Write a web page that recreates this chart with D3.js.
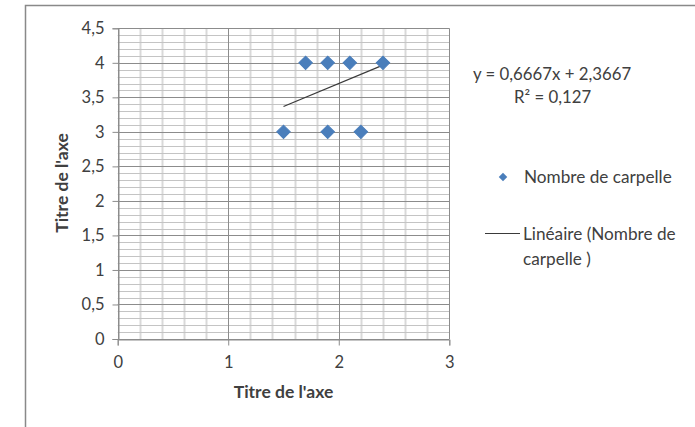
<!DOCTYPE html>
<html>
<head>
<meta charset="utf-8">
<script src="https://cdn.jsdelivr.net/npm/d3@7"></script>
<style>
  html, body { margin: 0; padding: 0; background: #fff; }
  svg { display: block; }
  text { font-family: Lato, "Open Sans", sans-serif; fill: #404040; }
</style>
</head>
<body>
<svg id="chart" width="695" height="427"></svg>
<script>
// Nombre de carpelle — observations
const xValues = [1.5, 1.7, 1.9, 1.9, 2.1, 2.2, 2.4];
const yValues = [3, 4, 4, 3, 4, 3, 4];

// Linear trendline as reported by the equation label
const trendSlope = 0.6667;
const trendIntercept = 2.3667;
const trendR2 = 0.127;

const xTicks = [0, 1, 2, 3];
const yTicks = [0, 0.5, 1, 1.5, 2, 2.5, 3, 3.5, 4, 4.5];
const seriesName = "Nombre de carpelle";
const axisTitle = "Titre de l'axe";

const fmt = v => String(v).replace(".", ",");

const svg = d3.select("#chart");

// chart frame
svg.append("path")
  .attr("d", "M25.5,427 V5.5 H695")
  .attr("fill", "none").attr("stroke", "#898989").attr("stroke-width", 1.5);

const x = d3.scaleLinear().domain([0, 3]).range([117.7, 449.3]);
const y = d3.scaleLinear().domain([0, 4.5]).range([339, 28.3]);

const grid = svg.append("g");
// minor vertical gridlines every 0.2
grid.selectAll("line.vmin").data(d3.range(0, 3.0001, 0.2).map(v => +v.toFixed(1)).filter(v => !xTicks.includes(v)))
  .join("line")
  .attr("x1", d => Math.round(x(d)) + 0.5).attr("x2", d => Math.round(x(d)) + 0.5)
  .attr("y1", y(4.5)).attr("y2", y(0))
  .attr("stroke", "#d9d9d9").attr("stroke-width", 2);
// minor horizontal gridlines every 0.1
grid.selectAll("line.hmin").data(d3.range(0, 45).map(i => i / 10).filter(v => !yTicks.includes(v)))
  .join("line")
  .attr("x1", x(0)).attr("x2", x(3))
  .attr("y1", d => Math.round(y(d)) + 0.5).attr("y2", d => Math.round(y(d)) + 0.5)
  .attr("stroke", "#c4c4c4").attr("stroke-width", 1);
// major gridlines
grid.selectAll("line.vmaj").data(xTicks)
  .join("line")
  .attr("x1", d => Math.round(x(d)) + 0.5).attr("x2", d => Math.round(x(d)) + 0.5)
  .attr("y1", y(4.5)).attr("y2", y(0))
  .attr("stroke", "#8c8c8c").attr("stroke-width", 1);
grid.selectAll("line.hmaj").data(yTicks)
  .join("line")
  .attr("x1", x(0)).attr("x2", x(3))
  .attr("y1", d => Math.round(y(d)) + 0.5).attr("y2", d => Math.round(y(d)) + 0.5)
  .attr("stroke", "#8c8c8c").attr("stroke-width", 1);

// axes
const yAxis = svg.append("g")
  .attr("transform", `translate(${Math.round(x(0)) + 0.5},0)`)
  .call(d3.axisLeft(y).tickValues(yTicks).tickSize(6).tickPadding(8).tickFormat(fmt));
const xAxis = svg.append("g")
  .attr("transform", `translate(0,${Math.round(y(0)) + 0.5})`)
  .call(d3.axisBottom(x).tickValues(xTicks).tickSize(6).tickPadding(11).tickFormat(fmt));
[xAxis, yAxis].forEach(a => {
  a.select(".domain").attr("stroke", "#8c8c8c");
  a.selectAll(".tick line").attr("stroke", "#8c8c8c");
  a.selectAll(".tick text").attr("fill", "#404040")
    .style("font-family", "Lato, sans-serif").style("font-size", "16.5px");
});

// trendline across the observed x range
const [xmin, xmax] = d3.extent(xValues);
svg.append("line")
  .attr("x1", x(xmin)).attr("y1", y(trendSlope * xmin + trendIntercept))
  .attr("x2", x(xmax)).attr("y2", y(trendSlope * xmax + trendIntercept))
  .attr("stroke", "#3a3a3a").attr("stroke-width", 1.2);

// points
const diamond = d3.symbol().type(d3.symbolSquare).size(90);
svg.append("g").selectAll("path")
  .data(xValues.map((v, i) => [v, yValues[i]]))
  .join("path")
  .attr("d", diamond)
  .attr("transform", d => `translate(${x(d[0])},${y(d[1])}) rotate(45)`)
  .attr("fill", "#4a7ebb").attr("stroke", "#4a7ebb").attr("stroke-width", 1);

// axis titles
svg.append("text")
  .attr("x", 283.5).attr("y", 391).attr("text-anchor", "middle").attr("dominant-baseline", "central")
  .style("font-weight", "bold").style("font-size", "17.5px").attr("fill", "#262626").text(axisTitle);
svg.append("text")
  .attr("transform", "translate(61,183) rotate(-90)").attr("text-anchor", "middle").attr("dominant-baseline", "central")
  .style("font-weight", "bold").style("font-size", "17.5px").attr("fill", "#262626").text(axisTitle);

// trendline label
const eq = `y = ${fmt(trendSlope)}x + ${fmt(trendIntercept)}`;
svg.append("text").attr("x", 473).attr("y", 73).attr("dominant-baseline", "central")
  .style("font-size", "16.8px").attr("fill", "#262626").text(eq);
svg.append("text").attr("x", 514).attr("y", 96).attr("dominant-baseline", "central")
  .style("font-size", "16.8px").attr("fill", "#262626").text(`R² = ${fmt(trendR2)}`);

// legend
const lg = svg.append("g");
lg.append("path").attr("d", d3.symbol().type(d3.symbolSquare).size(36))
  .attr("transform", "translate(503,177) rotate(45)").attr("fill", "#4a7ebb");
lg.append("text").attr("x", 524).attr("y", 176).attr("dominant-baseline", "central")
  .style("font-size", "17.2px").attr("fill", "#262626").text(seriesName);
lg.append("line").attr("x1", 485).attr("x2", 520).attr("y1", 233.5).attr("y2", 233.5)
  .attr("stroke", "#3a3a3a").attr("stroke-width", 1);
const words = seriesName.split(" ");
lg.append("text").attr("x", 523).attr("y", 233).attr("dominant-baseline", "central")
  .style("font-size", "17.2px").attr("fill", "#262626").text(`Linéaire (${words.slice(0, 2).join(" ")}`);
lg.append("text").attr("x", 523).attr("y", 258).attr("dominant-baseline", "central")
  .style("font-size", "17.2px").attr("fill", "#262626").text(`${words.slice(2).join(" ")} )`);
</script>
</body>
</html>
